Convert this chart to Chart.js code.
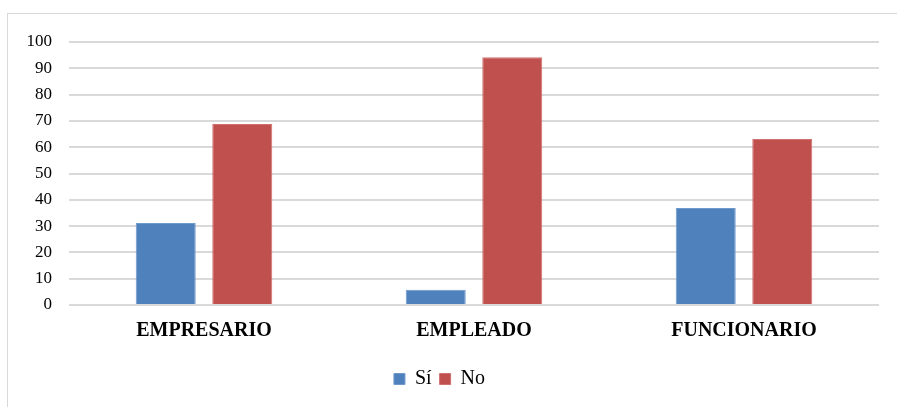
<!DOCTYPE html>
<html>
<head>
<meta charset="utf-8">
<script src="https://cdn.jsdelivr.net/npm/chart.js@4/dist/chart.umd.min.js"></script>
<style>
  html, body { margin: 0; padding: 0; background: #fff; overflow: hidden; }
  #wrap { position: relative; width: 897px; height: 407px; }
  #frame { position: absolute; left: 7px; top: 13px; width: 900px; height: 400px;
           border: 1px solid #d9d9d9; box-sizing: border-box; }
  #c { position: absolute; left: 0; top: 0; }
</style>
</head>
<body>
<div id="wrap">
  <div id="frame"></div>
  <canvas id="c" width="897" height="407"></canvas>
</div>
<script>
const categories = ['EMPRESARIO', 'EMPLEADO', 'FUNCIONARIO'];
const siValues = [31.2, 5.8, 36.9];
const noValues = [68.8, 94.2, 63.1];
const seriesNames = ['Sí', 'No'];

const serif = '"Liberation Serif", "Times New Roman", serif';

new Chart(document.getElementById('c'), {
  type: 'bar',
  data: {
    labels: categories,
    datasets: [
      { label: seriesNames[0], data: siValues, backgroundColor: '#4F81BD', borderColor: '#6f98cb', borderWidth: 1 },
      { label: seriesNames[1], data: noValues, backgroundColor: '#C0504D', borderColor: '#d0706d', borderWidth: 1 }
    ]
  },
  options: {
    responsive: false,
    animation: false,
    devicePixelRatio: 1,
    categoryPercentage: 0.567,
    barPercentage: 0.784,
    layout: { padding: { top: 42, right: 18, left: 0, bottom: 8 } },
    plugins: {
      tooltip: { enabled: false },
      legend: {
        position: 'bottom',
        labels: {
          boxWidth: 11, boxHeight: 11, padding: 8,
          color: '#000',
          font: { family: serif, size: 20 }
        }
      }
    },
    scales: {
      x: {
        grid: { display: false, drawTicks: false },
        border: { display: false },
        ticks: { color: '#000', padding: 14, font: { family: serif, size: 20, weight: 'bold' } },
        afterFit: s => { s.height = 56; }
      },
      y: {
        min: 0, max: 100,
        ticks: { stepSize: 10, color: '#000', padding: 17, font: { family: serif, size: 17 } },
        grid: { color: '#d9d9d9', lineWidth: 2, drawTicks: false },
        border: { display: false },
        afterFit: s => { s.width = 69; }
      }
    }
  }
});
</script>
</body>
</html>
